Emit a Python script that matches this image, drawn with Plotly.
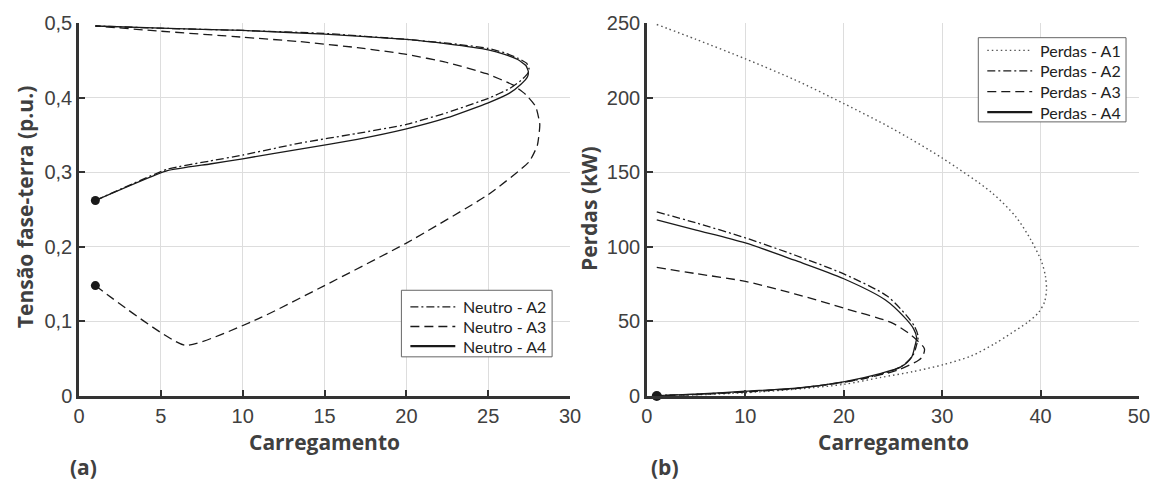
import plotly.graph_objects as go

# ---------------- data: panel (a) ----------------
a2_x = [1, 5.4, 8, 10, 13.5, 17, 20, 22.5, 25, 26.3, 27.0, 27.4, 27.5, 27.35, 26.8, 26, 25, 22.5, 20, 15, 10, 5, 1]
a2_y = [0.262, 0.304, 0.315, 0.323, 0.339, 0.352, 0.364, 0.380, 0.399, 0.412, 0.423, 0.432, 0.438, 0.446, 0.453, 0.460, 0.466, 0.473, 0.478, 0.486, 0.490, 0.493, 0.496]

a3_x = [1, 6.5, 11, 15, 20, 25, 27.5, 28.0, 28.15, 27.9, 27.3, 26.5, 24.9, 22.5, 20, 17, 13.5, 10, 5, 1]
a3_y = [0.148, 0.068, 0.104, 0.148, 0.205, 0.270, 0.314, 0.336, 0.364, 0.388, 0.404, 0.417, 0.432, 0.447, 0.458, 0.467, 0.475, 0.481, 0.489, 0.496]

a4_x = [1, 5.4, 8, 10, 13.5, 17, 20, 22.5, 25, 26.3, 27.0, 27.4, 27.45, 27.3, 26.8, 26, 25, 22.5, 20, 15, 10, 5, 1]
a4_y = [0.262, 0.302, 0.311, 0.318, 0.331, 0.344, 0.358, 0.373, 0.393, 0.406, 0.418, 0.428, 0.435, 0.443, 0.451, 0.458, 0.464, 0.472, 0.478, 0.485, 0.490, 0.493, 0.496]

a_dot_x = [1, 1]
a_dot_y = [0.262, 0.148]

# ---------------- data: panel (b) ----------------
p1_x = [1, 5, 10, 15, 20, 25, 30, 35, 37.5, 39, 40.1, 40.5, 40.6, 40.4, 39.8, 38.7, 37, 35.3, 33, 30.1, 27, 23.8, 20, 15, 10, 5, 1]
p1_y = [249, 239, 226, 212, 196, 179, 159.5, 136.5, 120, 104.8, 90, 80, 71, 63, 56, 49.5, 42, 34.9, 27, 21, 16.3, 12.5, 7.8, 4.5, 2.2, 0.8, 0.2]

p2_x = [1, 5, 10, 15, 20, 24.4, 26.3, 27.2, 27.55, 27.35, 27.0, 25.9, 23.8, 20, 15, 10, 5, 1]
p2_y = [123.4, 116, 106, 94.5, 81.8, 67, 54.5, 46.5, 40, 33, 27, 20, 14.6, 9.2, 5, 2.8, 1.2, 0.3]

p3_x = [1, 5, 10, 15, 20, 24.9, 26.5, 27.5, 28.2, 28.0, 27.6, 25.5, 22.2, 20, 15, 10, 5, 1]
p3_y = [86.2, 82, 76.8, 68.5, 58.9, 49, 42.5, 37, 31.6, 26.5, 24, 17.4, 11.9, 9.3, 5, 2.7, 1, 0.2]

p4_x = [1, 5, 10, 15, 20, 24.2, 26.2, 27.1, 27.4, 27.2, 26.9, 25.8, 23.8, 20.1, 15.4, 10, 5.3, 1]
p4_y = [118, 111.2, 102.6, 91, 78.6, 64.5, 52.5, 45, 39.2, 32.7, 26.1, 19.5, 15.2, 9.7, 5.4, 3.2, 1.4, 0.3]

b_dot_x = [1]
b_dot_y = [0]

# ticks
a_xticks = [0, 5, 10, 15, 20, 25, 30]
a_yticks = [0, 0.1, 0.2, 0.3, 0.4, 0.5]
a_yticktext = ["0", "0,1", "0,2", "0,3", "0,4", "0,5"]
b_xticks = [0, 10, 20, 30, 40, 50]
b_yticks = [0, 50, 100, 150, 200, 250]

# legend labels
leg_a_names = ["Neutro - A2", "Neutro - A3", "Neutro - A4"]
leg_b_names = ["Perdas - A1", "Perdas - A2", "Perdas - A3", "Perdas - A4"]

INK = "#1a1a1a"
LW = 1.3
DASHDOT = "8px,3px,2px,3px"
DASH = "9px,5px"
DOT = "1.5px,3px"

fig = go.Figure()

def line(x, y, name, dash, xa, ya, color=INK, width=LW, smooth=0.8):
    fig.add_trace(go.Scatter(
        x=x, y=y, name=name, mode="lines", showlegend=False,
        line=dict(color=color, width=width, dash=dash, shape="spline", smoothing=smooth),
        xaxis=xa, yaxis=ya))

line(a2_x, a2_y, leg_a_names[0], DASHDOT, "x", "y", smooth=0.45)
line(a3_x, a3_y, leg_a_names[1], DASH, "x", "y", smooth=0.45)
line(a4_x, a4_y, leg_a_names[2], "solid", "x", "y", smooth=0.45)
fig.add_trace(go.Scatter(x=a_dot_x, y=a_dot_y, mode="markers", showlegend=False,
                         marker=dict(color=INK, size=9), xaxis="x", yaxis="y"))

line(p1_x, p1_y, leg_b_names[0], DOT, "x2", "y2", color="#555555", width=1.4)
line(p2_x, p2_y, leg_b_names[1], DASHDOT, "x2", "y2")
line(p3_x, p3_y, leg_b_names[2], DASH, "x2", "y2")
line(p4_x, p4_y, leg_b_names[3], "solid", "x2", "y2")
fig.add_trace(go.Scatter(x=b_dot_x, y=b_dot_y, mode="markers", showlegend=False,
                         marker=dict(color=INK, size=10), xaxis="x2", yaxis="y2", cliponaxis=False))

L, R, T, B = 79, 21, 15, 87
W, H = 1162, 483
pw = W - L - R
ph = H - T - B

def px2x(p):
    return (p - L) / pw

def px2y(p):
    return (H - B - p) / ph

tickfont = dict(family="Liberation Sans, Arial", size=20, color="#404040")
axis_common = dict(showgrid=True, gridcolor="#dddddd", gridwidth=1, zeroline=False,
                   showline=True, linecolor="#333333", linewidth=2.5,
                   ticks="inside", ticklen=6, tickwidth=2, tickcolor="#333333",
                   tickfont=tickfont)

fig.update_layout(
    width=W, height=H,
    margin=dict(l=L, r=R, t=T, b=B),
    paper_bgcolor="white", plot_bgcolor="white",
    xaxis=dict(domain=[0, px2x(571)], range=[0, 30], tickvals=a_xticks, anchor="y", **axis_common),
    yaxis=dict(domain=[0, 1], range=[0, 0.5], tickvals=a_yticks, ticktext=a_yticktext, anchor="x", **axis_common),
    xaxis2=dict(domain=[px2x(648), 1], range=[0, 50], tickvals=b_xticks, anchor="y2", **axis_common),
    yaxis2=dict(domain=[0, 1], range=[0, 250], tickvals=b_yticks, anchor="x2", **axis_common),
    showlegend=False,
)

# ---- hand-drawn legend boxes (to match the compact entry spacing) ----
leg_font = dict(family="Lato", size=16, color="#222222")

def legend_box(x0, x1, y0, y1, rows, names, styles):
    fig.add_shape(type="rect", xref="paper", yref="paper",
                  x0=px2x(x0), x1=px2x(x1), y0=px2y(y0), y1=px2y(y1),
                  line=dict(color="#666666", width=1), fillcolor="white", layer="above")
    for ry, name, (dash, color, width) in zip(rows, names, styles):
        fig.add_shape(type="line", xref="paper", yref="paper",
                      x0=px2x(x0 + 9), x1=px2x(x0 + 54), y0=px2y(ry), y1=px2y(ry),
                      line=dict(color=color, width=width, dash=dash), layer="above")
        fig.add_annotation(xref="paper", yref="paper", x=px2x(x0 + 60), y=px2y(ry),
                           text=name, showarrow=False, xanchor="left", yanchor="middle",
                           font=leg_font)

legend_box(402, 553, 288, 356, [305, 325, 345], leg_a_names,
           [(DASHDOT, INK, 1.3), (DASH, INK, 1.3), ("solid", INK, 2.2)])
legend_box(980, 1128, 30, 116, [43, 64, 85, 106], leg_b_names,
           [(DOT, "#555555", 1.3), (DASHDOT, INK, 1.3), (DASH, INK, 1.3), ("solid", INK, 2.2)])

title_font = dict(family="Open Sans", size=21, color="#404040")
bold = lambda s: "<b>" + s + "</b>"
ann = [
    dict(text=bold("Carregamento"), x=px2x(325), y=px2y(443)),
    dict(text=bold("Carregamento"), x=px2x(895), y=px2y(443)),
    dict(text=bold("(a)"), x=px2x(84), y=px2y(469)),
    dict(text=bold("(b)"), x=px2x(666), y=px2y(469)),
    dict(text=bold("Tensão fase-terra (p.u.)"), x=px2x(25), y=px2y(203), textangle=-90),
    dict(text=bold("Perdas (kW)"), x=px2x(590), y=px2y(205), textangle=-90),
]
for a in ann:
    fig.add_annotation(xref="paper", yref="paper", showarrow=False,
                       xanchor="center", yanchor="middle", font=title_font, **a)

fig.write_html("out.html")
